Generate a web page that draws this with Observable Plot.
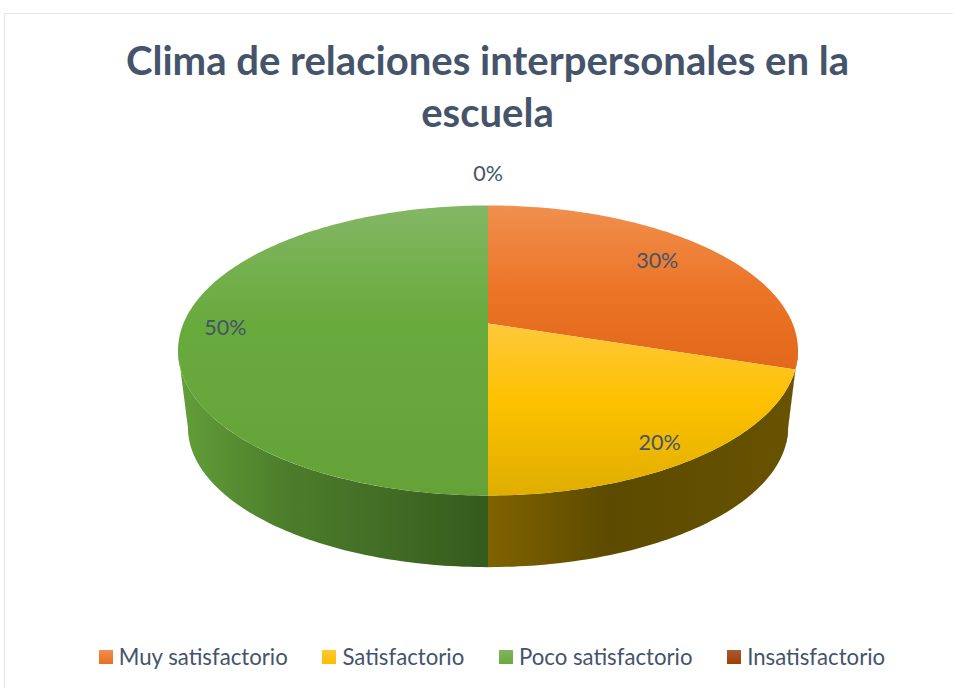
<!DOCTYPE html>
<html>
<head>
<meta charset="utf-8">
<script src="https://cdn.jsdelivr.net/npm/d3@7"></script>
<script src="https://cdn.jsdelivr.net/npm/@observablehq/plot@0.6"></script>
<style>
  html, body { margin: 0; padding: 0; background: #fff; }
  #page { position: relative; width: 953px; height: 688px; overflow: hidden; font-family: Lato, "Open Sans", sans-serif; color: #44546a; }
  #frame { position: absolute; left: 4px; top: 13px; right: -4px; bottom: -4px; border: 1px solid #e3e6ea; }
  #title { position: relative; padding: 34px 0 0 22px; height: 106px; box-sizing: content-box; text-align: center; font-size: 40.1px; line-height: 52px; font-weight: 700; }
  #chart { position: relative; height: 488px; }
  #chart svg { display: block; }
  #legend { position: relative; display: flex; justify-content: center; gap: 34.7px; padding-left: 31px; font-size: 22.2px; line-height: 26px; margin-top: 16px; }
  #legend .item { display: flex; align-items: center; gap: 6px; }
  #legend .sw { width: 14px; height: 14px; display: inline-block; }
</style>
</head>
<body>
<div id="page">
  <div id="frame"></div>
  <div id="title">Clima de relaciones interpersonales en la<br>escuela</div>
  <div id="chart"></div>
  <div id="legend"></div>
</div>
<script>
// ---- data ----
const categories = ["Muy satisfactorio", "Satisfactorio", "Poco satisfactorio", "Insatisfactorio"];
const percents = [30, 20, 50, 0];

// ---- styling ----
const topStops = [
  [[0, "#f0904f"], [0.5, "#ec7527"], [1, "#e2681b"]],
  [[0, "#ffc83c"], [0.45, "#fdc100"], [1, "#e0ae00"]],
  [[0, "#83b765"], [0.4, "#69aa3d"], [1, "#64a238"]],
  [[0, "#a9582f"], [1, "#9e4100"]]
];
const wallStops = [
  [[0, "#8a4a1a"], [1, "#703a10"]],
  [[0, "#806300"], [0.4, "#5c4a00"], [1, "#675300"]],
  [[0, "#639f39"], [0.35, "#4c7d2b"], [0.7, "#416b24"], [1, "#345a1c"]],
  [[0, "#5e2700"], [1, "#5e2700"]]
];
const swatchCss = [
  "linear-gradient(#f08e52,#ea6f1e)",
  "linear-gradient(#ffc733,#fbbf00)",
  "linear-gradient(#80b660,#69a93c)",
  "linear-gradient(#a85a34,#9f4000)"
];
const labelRadius = [0.775, 0.885, 0.858, 1.336];
const labelNudge = [-2.6, 2.7, -2, 0];

// ---- perspective projection of the pie disc ----
const tilt = 0.186;          // perspective strength
const bottomScale = 0.968;   // lower rim is further from the viewer
const bottomShift = 0.557;   // pie thickness, in radius units
const silhouette = 100.7;    // angle (deg from 12 o'clock) of the side tangent

const rad = d => d * Math.PI / 180;
function project(deg, r = 1, lower = false) {
  const u = r * Math.sin(rad(deg)), v = -r * Math.cos(rad(deg));
  const w = 1 - tilt * v;
  return lower
    ? {x: bottomScale * u / w, y: bottomShift + bottomScale * 0.995 * v / w}
    : {x: u / w, y: v / w};
}
function arc(a0, a1, r, lower) {
  const n = Math.max(1, Math.ceil(Math.abs(a1 - a0)));
  return d3.range(n + 1).map(i => project(a0 + (a1 - a0) * i / n, r, lower));
}

const slices = d3.pie().sort(null).value(d => d)(percents)
  .map((s, i) => ({i, a0: s.startAngle * 180 / Math.PI, a1: s.endAngle * 180 / Math.PI, value: percents[i], name: categories[i]}));

function topFace(s) {
  return s.a1 > s.a0 ? [project(0, 0), ...arc(s.a0, s.a1, 1, false), project(0, 0)] : [];
}
function wall(s) {
  const lo = silhouette, hi = 360 - silhouette;
  const b0 = Math.max(s.a0, lo), b1 = Math.min(s.a1, hi);
  if (b1 <= b0) return [];
  const t0 = Math.max(s.a0, lo), t1 = b1;
  return [...arc(t0, t1, 1, false), ...arc(b1, s.i === 1 ? lo : b0, 1, true)];
}

const defs = () => {
  const d = d3.create("svg:defs");
  const add = (id, stops, horizontal) => {
    const g = d.append("linearGradient").attr("id", id)
      .attr("x1", 0).attr("y1", 0)
      .attr("x2", horizontal ? 1 : 0).attr("y2", horizontal ? 0 : 1);
    stops.forEach(([o, c]) => g.append("stop").attr("offset", o).attr("stop-color", c));
  };
  topStops.forEach((st, i) => add("top" + i, st, false));
  wallStops.forEach((st, i) => add("wall" + i, st, true));
  return d.node();
};

const labels = slices.map(s => {
  const p = project((s.a0 + s.a1) / 2 + labelNudge[s.i], labelRadius[s.i], false);
  return {...p, text: s.value + "%"};
});

const svgTop = 140;
const chart = Plot.plot({
  width: 953,
  height: 488,
  margin: 0,
  style: {background: "transparent"},
  x: {axis: null, domain: [-1, 1], range: [487.5 - 304.6, 487.5 + 304.6]},
  y: {axis: null, domain: [-1, 1], range: [323 - 140 - svgTop, 323 + 140 - svgTop]},
  marks: [
    defs,
    ...slices.map(s => Plot.line(wall(s), {x: "x", y: "y", fill: `url(#wall${s.i})`, stroke: "none", curve: "linear"})),
    ...slices.map(s => Plot.line(topFace(s), {x: "x", y: "y", fill: `url(#top${s.i})`, stroke: "none", curve: "linear"})),
    Plot.text(labels, {x: "x", y: "y", text: "text", fontSize: 21.5, fontFamily: "Lato, 'Open Sans', sans-serif", fill: "#44546a", textAnchor: "middle"})
  ]
});
document.getElementById("chart").appendChild(chart);

const legend = document.getElementById("legend");
categories.forEach((c, i) => {
  const item = document.createElement("div");
  item.className = "item";
  const sw = document.createElement("span");
  sw.className = "sw";
  sw.style.background = swatchCss[i];
  const t = document.createElement("span");
  t.textContent = c;
  item.append(sw, t);
  legend.append(item);
});
</script>
</body>
</html>
